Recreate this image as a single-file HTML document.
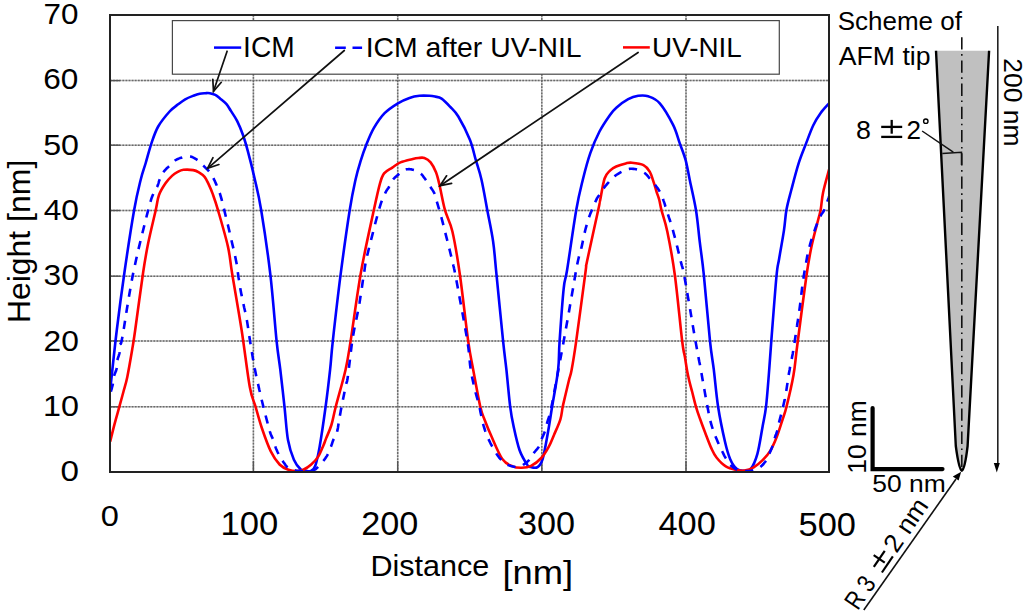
<!DOCTYPE html><html><head><meta charset="utf-8"><style>html,body{margin:0;padding:0;background:#fff;overflow:hidden}svg{display:block}</style></head><body>
<svg width="1024" height="614" viewBox="0 0 1024 614">
<rect width="1024" height="614" fill="#fff"/>
<defs><clipPath id="pc"><rect x="110" y="15" width="719" height="457"/></clipPath></defs>
<g stroke="#c2c2c2" stroke-width="1.5" fill="none">
<line x1="253.4" y1="15" x2="253.4" y2="472"/>
<line x1="397.7" y1="15" x2="397.7" y2="472"/>
<line x1="541.8" y1="15" x2="541.8" y2="472"/>
<line x1="686.0" y1="15" x2="686.0" y2="472"/>
<line x1="110" y1="406.8" x2="829" y2="406.8"/>
<line x1="110" y1="340.9" x2="829" y2="340.9"/>
<line x1="110" y1="276.2" x2="829" y2="276.2"/>
<line x1="110" y1="210.5" x2="829" y2="210.5"/>
<line x1="110" y1="145.2" x2="829" y2="145.2"/>
<line x1="110" y1="80.6" x2="829" y2="80.6"/>
</g>
<g stroke="#6a6a6a" stroke-width="1.5" stroke-dasharray="1.8 1.3" fill="none">
<line x1="253.4" y1="15" x2="253.4" y2="472"/>
<line x1="397.7" y1="15" x2="397.7" y2="472"/>
<line x1="541.8" y1="15" x2="541.8" y2="472"/>
<line x1="686.0" y1="15" x2="686.0" y2="472"/>
<line x1="110" y1="406.8" x2="829" y2="406.8"/>
<line x1="110" y1="340.9" x2="829" y2="340.9"/>
<line x1="110" y1="276.2" x2="829" y2="276.2"/>
<line x1="110" y1="210.5" x2="829" y2="210.5"/>
<line x1="110" y1="145.2" x2="829" y2="145.2"/>
<line x1="110" y1="80.6" x2="829" y2="80.6"/>
</g>
<g stroke="#555" stroke-width="1.4">
<line x1="253.4" y1="461" x2="253.4" y2="472"/>
<line x1="397.7" y1="461" x2="397.7" y2="472"/>
<line x1="541.8" y1="461" x2="541.8" y2="472"/>
<line x1="686.0" y1="461" x2="686.0" y2="472"/>
<line x1="110" y1="406.8" x2="120" y2="406.8"/>
<line x1="110" y1="340.9" x2="120" y2="340.9"/>
<line x1="110" y1="276.2" x2="120" y2="276.2"/>
<line x1="110" y1="210.5" x2="120" y2="210.5"/>
<line x1="110" y1="145.2" x2="120" y2="145.2"/>
<line x1="110" y1="80.6" x2="120" y2="80.6"/>
</g>
<rect x="172.4" y="20.6" width="606.9" height="53.6" fill="#fff" stroke="#484848" stroke-width="1.2"/>
<g clip-path="url(#pc)" fill="none" stroke-width="2.6" stroke-linejoin="round">
<path stroke="#0000ff" d="M110.30,389.00 C111.38,379.17 114.43,349.50 116.80,330.00 C119.17,310.50 121.62,291.97 124.50,272.00 C127.38,252.03 131.40,225.58 134.10,210.20 C136.80,194.82 138.77,187.57 140.70,179.70 C142.63,171.83 143.90,169.10 145.70,163.00 C147.50,156.90 149.42,149.18 151.50,143.10 C153.58,137.02 155.18,131.77 158.20,126.50 C161.22,121.23 166.33,115.15 169.60,111.50 C172.87,107.85 175.20,106.63 177.80,104.60 C180.40,102.57 182.60,100.78 185.20,99.30 C187.80,97.82 190.98,96.63 193.40,95.70 C195.82,94.77 197.73,94.12 199.70,93.70 C201.67,93.28 203.52,93.28 205.20,93.20 C206.88,93.12 208.12,92.92 209.80,93.20 C211.48,93.48 213.60,94.03 215.30,94.90 C217.00,95.77 218.17,96.90 220.00,98.40 C221.83,99.90 224.48,101.82 226.30,103.90 C228.12,105.98 229.08,108.03 230.90,110.90 C232.72,113.77 235.20,117.12 237.20,121.10 C239.20,125.08 241.12,129.75 242.90,134.80 C244.68,139.85 245.97,144.20 247.90,151.40 C249.83,158.60 252.28,168.20 254.50,178.00 C256.72,187.80 258.57,194.17 261.20,210.20 C263.83,226.23 267.73,252.38 270.30,274.20 C272.87,296.02 274.93,325.18 276.60,341.10 C278.27,357.02 278.98,358.75 280.30,369.70 C281.62,380.65 283.22,395.07 284.50,406.80 C285.78,418.53 286.43,431.28 288.00,440.10 C289.57,448.92 291.77,454.80 293.90,459.70 C296.03,464.60 298.78,467.63 300.80,469.50 C302.82,471.37 304.30,470.67 306.00,470.90 C307.70,471.13 309.45,471.77 311.00,470.90 C312.55,470.03 313.87,469.70 315.30,465.70 C316.73,461.70 317.88,456.72 319.60,446.90 C321.32,437.08 323.85,419.67 325.60,406.80 C327.35,393.93 328.90,380.65 330.10,369.70 C331.30,358.75 331.05,356.93 332.80,341.10 C334.55,325.27 337.78,296.52 340.60,274.70 C343.42,252.88 347.22,226.03 349.70,210.20 C352.18,194.37 353.70,187.83 355.50,179.70 C357.30,171.57 358.70,167.22 360.50,161.40 C362.30,155.58 364.08,150.33 366.30,144.80 C368.52,139.27 370.75,133.47 373.80,128.20 C376.85,122.93 380.58,117.35 384.60,113.20 C388.62,109.05 393.75,105.85 397.90,103.30 C402.05,100.75 405.90,99.15 409.50,97.90 C413.10,96.65 416.17,96.15 419.50,95.80 C422.83,95.45 426.92,95.67 429.50,95.80 C432.08,95.93 432.98,96.13 435.00,96.60 C437.02,97.07 439.10,96.93 441.60,98.60 C444.10,100.27 447.22,103.62 450.00,106.60 C452.78,109.58 454.98,110.97 458.30,116.50 C461.62,122.03 467.00,132.60 469.90,139.80 C472.80,147.00 473.77,153.05 475.70,159.70 C477.63,166.35 479.57,171.28 481.50,179.70 C483.43,188.12 485.37,199.92 487.30,210.20 C489.23,220.48 491.57,230.65 493.10,241.40 C494.63,252.15 494.83,258.08 496.50,274.70 C498.17,291.32 501.45,325.27 503.10,341.10 C504.75,356.93 505.22,358.75 506.40,369.70 C507.58,380.65 509.00,397.35 510.20,406.80 C511.40,416.25 512.03,419.15 513.60,426.40 C515.17,433.65 517.32,443.88 519.60,450.30 C521.88,456.72 525.45,462.10 527.30,464.90 C529.15,467.70 528.98,466.73 530.70,467.10 C532.42,467.47 535.60,468.47 537.60,467.10 C539.60,465.73 541.00,464.55 542.70,458.90 C544.40,453.25 546.23,441.88 547.80,433.20 C549.37,424.52 550.38,417.33 552.10,406.80 C553.82,396.27 556.85,380.95 558.10,370.00 C559.35,359.05 558.67,354.72 559.60,341.10 C560.53,327.48 562.45,300.15 563.70,288.30 C564.95,276.45 565.02,283.02 567.10,270.00 C569.18,256.98 573.58,225.25 576.20,210.20 C578.82,195.15 580.45,189.22 582.80,179.70 C585.15,170.18 587.52,161.13 590.30,153.10 C593.08,145.07 596.22,137.87 599.50,131.50 C602.78,125.13 607.15,118.92 610.00,114.90 C612.85,110.88 613.57,110.03 616.60,107.40 C619.63,104.77 624.60,101.03 628.20,99.10 C631.80,97.17 634.87,96.27 638.20,95.80 C641.53,95.33 644.60,95.05 648.20,96.30 C651.80,97.55 655.65,98.53 659.80,103.30 C663.95,108.07 669.78,118.27 673.10,124.90 C676.42,131.53 677.63,137.30 679.70,143.10 C681.77,148.90 683.83,153.60 685.50,159.70 C687.17,165.80 687.95,171.28 689.70,179.70 C691.45,188.12 694.33,199.92 696.00,210.20 C697.67,220.48 698.40,230.65 699.70,241.40 C701.00,252.15 702.08,258.08 703.80,274.70 C705.52,291.32 708.33,325.27 710.00,341.10 C711.67,356.93 712.45,358.75 713.80,369.70 C715.15,380.65 716.23,394.78 718.10,406.80 C719.97,418.82 723.00,433.12 725.00,441.80 C727.00,450.48 728.12,454.35 730.10,458.90 C732.08,463.45 734.62,467.10 736.90,469.10 C739.18,471.10 741.52,470.90 743.80,470.90 C746.08,470.90 748.33,471.95 750.60,469.10 C752.87,466.25 755.40,460.92 757.40,453.80 C759.40,446.68 761.17,434.23 762.60,426.40 C764.03,418.57 764.97,415.37 766.00,406.80 C767.03,398.23 767.92,385.95 768.80,375.00 C769.68,364.05 770.02,357.60 771.30,341.10 C772.58,324.60 775.20,289.68 776.50,276.00 C777.80,262.32 777.85,266.65 779.10,259.00 C780.35,251.35 782.77,238.33 784.00,230.10 C785.23,221.87 785.28,216.28 786.50,209.60 C787.72,202.92 789.27,197.75 791.30,190.00 C793.33,182.25 796.25,170.83 798.70,163.10 C801.15,155.37 803.57,149.92 806.00,143.60 C808.43,137.28 810.85,130.30 813.30,125.20 C815.75,120.10 818.05,116.67 820.70,113.00 C823.35,109.33 827.78,104.83 829.20,103.20"/>
<path stroke="#ff0000" d="M110.10,441.80 C110.85,438.80 113.03,429.73 114.60,423.80 C116.17,417.87 118.02,411.58 119.50,406.20 C120.98,400.82 122.20,396.38 123.50,391.50 C124.80,386.62 125.85,383.90 127.30,376.90 C128.75,369.90 130.88,357.32 132.20,349.50 C133.52,341.68 133.37,342.92 135.20,330.00 C137.03,317.08 141.03,286.48 143.20,272.00 C145.37,257.52 146.12,253.40 148.20,243.10 C150.28,232.80 153.90,218.22 155.70,210.20 C157.50,202.18 157.37,199.48 159.00,195.00 C160.63,190.52 163.33,186.48 165.50,183.30 C167.67,180.12 169.97,177.80 172.00,175.90 C174.03,174.00 175.80,172.92 177.70,171.90 C179.60,170.88 180.82,170.10 183.40,169.80 C185.98,169.50 190.62,169.68 193.20,170.10 C195.78,170.52 197.00,171.18 198.90,172.30 C200.80,173.42 202.98,174.83 204.60,176.80 C206.22,178.77 207.25,181.25 208.60,184.10 C209.95,186.95 211.13,189.55 212.70,193.90 C214.27,198.25 215.47,201.45 218.00,210.20 C220.53,218.95 225.55,235.88 227.90,246.40 C230.25,256.92 229.82,259.37 232.10,273.30 C234.38,287.23 238.65,311.05 241.60,330.00 C244.55,348.95 247.48,374.25 249.80,387.00 C252.12,399.75 253.47,399.58 255.50,406.50 C257.53,413.42 259.45,421.02 262.00,428.50 C264.55,435.98 267.87,445.40 270.80,451.40 C273.73,457.40 276.67,461.43 279.60,464.50 C282.53,467.57 285.47,468.70 288.40,469.80 C291.33,470.90 294.72,471.10 297.20,471.10 C299.68,471.10 300.97,470.90 303.30,469.80 C305.63,468.70 308.72,466.70 311.20,464.50 C313.68,462.30 316.15,459.82 318.20,456.60 C320.25,453.38 322.18,448.23 323.50,445.20 C324.82,442.17 324.78,441.77 326.10,438.40 C327.42,435.03 329.78,430.32 331.40,425.00 C333.02,419.68 333.45,415.67 335.80,406.50 C338.15,397.33 343.03,380.90 345.50,370.00 C347.97,359.10 348.02,357.43 350.60,341.10 C353.18,324.77 357.13,293.82 361.00,272.00 C364.87,250.18 370.63,224.98 373.80,210.20 C376.97,195.42 378.28,189.43 380.00,183.30 C381.72,177.17 382.05,176.02 384.10,173.40 C386.15,170.78 389.57,169.43 392.30,167.60 C395.03,165.77 397.08,163.83 400.50,162.40 C403.92,160.97 409.83,159.73 412.80,159.00 C415.77,158.27 416.37,158.17 418.30,158.00 C420.23,157.83 422.35,157.27 424.40,158.00 C426.45,158.73 428.67,160.02 430.60,162.40 C432.53,164.78 434.52,168.53 436.00,172.30 C437.48,176.07 438.00,178.68 439.50,185.00 C441.00,191.32 442.85,202.45 445.00,210.20 C447.15,217.95 449.92,220.75 452.40,231.50 C454.88,242.25 457.27,256.43 459.90,274.70 C462.53,292.97 465.98,325.27 468.20,341.10 C470.42,356.93 471.18,358.75 473.20,369.70 C475.22,380.65 478.38,398.42 480.30,406.80 C482.22,415.18 482.88,415.17 484.70,420.00 C486.52,424.83 488.27,429.30 491.20,435.80 C494.13,442.30 498.75,453.90 502.30,459.00 C505.85,464.10 509.25,464.93 512.50,466.40 C515.75,467.87 518.70,467.88 521.80,467.80 C524.90,467.72 527.85,467.53 531.10,465.90 C534.35,464.27 538.37,461.17 541.30,458.00 C544.23,454.83 546.57,450.78 548.70,446.90 C550.83,443.02 552.15,439.30 554.10,434.70 C556.05,430.10 558.97,423.95 560.40,419.30 C561.83,414.65 561.85,410.88 562.70,406.80 C563.55,402.72 564.45,399.27 565.50,394.80 C566.55,390.33 567.98,384.13 569.00,380.00 C570.02,375.87 570.40,376.48 571.60,370.00 C572.80,363.52 573.88,357.43 576.20,341.10 C578.52,324.77 583.70,285.28 585.50,272.00 C587.30,258.72 584.82,272.03 587.00,261.40 C589.18,250.77 596.40,218.43 598.60,208.20 C600.80,197.97 599.20,204.95 600.20,200.00 C601.20,195.05 602.97,183.40 604.60,178.50 C606.23,173.60 608.07,172.60 610.00,170.60 C611.93,168.60 613.57,167.70 616.20,166.50 C618.83,165.30 623.18,164.03 625.80,163.40 C628.42,162.77 628.95,162.42 631.90,162.70 C634.85,162.98 640.53,163.62 643.50,165.10 C646.47,166.58 647.98,168.68 649.70,171.60 C651.42,174.52 652.67,179.27 653.80,182.60 C654.93,185.93 655.58,188.70 656.50,191.60 C657.42,194.50 658.47,196.90 659.30,200.00 C660.13,203.10 660.17,204.95 661.50,210.20 C662.83,215.45 665.08,220.75 667.30,231.50 C669.52,242.25 672.33,256.53 674.80,274.70 C677.27,292.87 680.40,326.68 682.10,340.50 C683.80,354.32 684.15,352.47 685.00,357.60 C685.85,362.73 686.48,367.40 687.20,371.30 C687.92,375.20 688.47,377.55 689.30,381.00 C690.13,384.45 691.08,387.70 692.20,392.00 C693.32,396.30 694.70,402.33 696.00,406.80 C697.30,411.27 698.48,414.52 700.00,418.80 C701.52,423.08 703.20,427.57 705.10,432.50 C707.00,437.43 709.50,444.23 711.40,448.40 C713.30,452.57 714.10,454.50 716.50,457.50 C718.90,460.50 722.38,464.30 725.80,466.40 C729.22,468.50 733.90,469.40 737.00,470.10 C740.10,470.80 741.62,471.07 744.40,470.60 C747.18,470.13 750.62,469.08 753.70,467.30 C756.78,465.52 760.12,462.68 762.90,459.90 C765.68,457.12 768.08,454.47 770.40,450.60 C772.72,446.73 774.80,441.80 776.80,436.70 C778.80,431.60 780.78,424.98 782.40,420.00 C784.02,415.02 784.65,414.30 786.50,406.80 C788.35,399.30 791.70,385.30 793.50,375.00 C795.30,364.70 795.15,361.50 797.30,345.00 C799.45,328.50 804.02,292.50 806.40,276.00 C808.78,259.50 809.65,255.33 811.60,246.00 C813.55,236.67 816.58,226.07 818.10,220.00 C819.62,213.93 819.87,214.18 820.70,209.60 C821.53,205.02 821.68,199.23 823.10,192.50 C824.52,185.77 828.18,173.08 829.20,169.20"/>
<polyline stroke="#0000ff" stroke-dasharray="8.30 7.94" stroke-dashoffset="-1.34" points="110.5,393.0 110.8,392.0 111.1,390.7 111.6,389.1 112.0,387.4 112.5,385.7 112.8,384.2 113.0,382.8 113.2,381.5 113.4,380.1 113.5,378.8 113.7,377.5 114.0,376.2 114.4,374.9 114.9,373.5 115.4,372.2 116.0,370.9 116.4,369.5 116.8,368.2 117.0,366.9 117.1,365.5 117.1,364.2 117.2,362.9 117.2,361.5 117.4,360.2 117.7,358.9 118.1,357.5 118.6,356.2 119.0,354.9 119.4,353.5 119.7,352.2 119.9,350.9 120.0,349.6 120.0,348.2 120.0,346.9 120.1,345.6 120.3,344.3 120.5,343.6 120.6,343.7 120.8,343.8 121.1,343.1 121.6,340.9 122.5,336.3 123.8,328.9 125.3,319.1 127.1,307.8 129.1,295.7 131.2,283.7 133.3,272.5 135.7,261.5 138.3,249.9 141.1,238.4 143.8,227.5 146.2,217.9 148.2,210.2 149.6,204.7 150.7,201.0 151.4,198.6 152.0,197.0 152.6,195.6 153.3,193.9 154.0,192.2 154.8,190.8 155.5,189.6 156.1,188.6 156.7,187.6 157.3,186.5 157.8,185.3 158.2,184.1 158.6,182.8 158.9,181.6 159.3,180.4 159.8,179.2 160.3,178.0 160.9,176.8 161.4,175.5 162.1,174.3 162.7,173.1 163.5,172.0 164.4,170.9 165.3,169.9 166.3,168.8 167.4,167.8 168.4,166.9 169.4,165.9 170.3,164.9 171.2,164.0 172.0,163.0 172.9,162.1 173.9,161.3 174.9,160.5 176.1,159.8 177.3,159.2 178.6,158.6 180.0,158.1 181.3,157.7 182.6,157.3 183.9,157.0 185.1,156.6 186.4,156.4 187.6,156.2 188.9,156.2 190.2,156.4 191.5,156.8 192.9,157.4 194.3,158.1 195.6,158.9 196.9,159.7 198.1,160.5 199.2,161.3 200.1,162.1 201.0,163.0 201.8,163.9 202.7,164.9 203.6,165.8 204.6,166.8 205.6,167.8 206.6,168.8 207.7,169.9 208.6,170.9 209.5,172.0 210.3,173.0 211.0,174.1 211.7,175.1 212.3,176.2 212.9,177.3 213.5,178.4 214.1,179.6 214.7,180.7 215.2,181.9 215.7,183.2 216.3,184.4 216.8,185.7 217.3,186.9 217.8,188.1 218.3,189.2 218.9,190.5 219.4,192.1 220.0,193.9 220.6,195.8 221.1,197.6 221.7,199.7 222.3,202.2 223.2,205.7 224.3,210.2 225.8,216.5 227.8,224.5 229.9,233.4 231.9,242.2 233.8,250.2 235.2,256.5 236.1,260.9 236.7,264.0 237.0,266.2 237.2,268.0 237.5,269.9 237.8,272.2 238.2,275.0 238.6,277.8 239.1,280.7 239.5,283.5 239.9,286.3 240.4,289.1 240.9,291.8 241.4,294.4 242.0,297.0 242.5,299.5 243.1,302.1 243.6,304.7 244.1,307.3 244.7,309.8 245.3,312.3 245.8,314.8 246.4,317.5 246.9,320.4 247.4,323.4 247.9,326.6 248.4,329.8 248.9,333.2 249.4,336.8 250.0,340.7 250.7,345.0 251.5,349.7 252.3,354.7 253.1,359.6 254.0,364.2 254.7,368.3 255.4,371.8 256.0,374.8 256.6,377.6 257.2,380.3 257.8,383.0 258.5,386.0 259.2,389.2 260.0,392.5 260.7,395.8 261.5,399.2 262.4,402.8 263.3,406.5 264.3,410.6 265.5,415.1 266.7,419.8 267.9,424.3 269.0,428.3 269.9,431.6 270.7,434.0 271.3,435.6 271.9,436.8 272.4,437.8 272.9,438.8 273.4,439.9 273.8,441.2 274.2,442.4 274.5,443.7 274.8,444.9 275.2,446.1 275.6,447.4 276.1,448.7 276.7,450.1 277.3,451.5 277.9,452.8 278.5,454.1 279.1,455.3 279.7,456.4 280.2,457.3 280.8,458.2 281.3,459.1 282.0,460.0 282.7,461.0 283.5,462.2 284.4,463.4 285.3,464.8 286.3,466.0 287.3,467.2 288.4,468.1 289.5,468.8 290.6,469.3 291.8,469.7 293.1,470.0 294.3,470.3 295.6,470.5 296.9,470.7 298.3,470.8 299.7,470.9 301.1,471.0 302.6,471.0 304.0,471.0 305.5,471.0 307.0,471.0 308.6,471.0 310.1,470.9 311.5,470.7 312.7,470.5 313.7,470.2 314.5,469.8 315.3,469.4 315.9,468.9 316.6,468.3 317.4,467.6 318.2,466.8 319.1,466.0 320.0,465.0 320.9,464.0 321.7,463.0 322.6,461.9 323.5,460.8 324.3,459.7 325.2,458.5 326.0,457.3 326.8,456.1 327.5,454.9 328.1,453.7 328.6,452.6 329.1,451.4 329.6,450.3 330.0,449.1 330.5,447.8 331.0,446.5 331.5,445.1 332.0,443.7 332.5,442.2 333.0,440.8 333.5,439.5 334.1,438.3 334.7,437.3 335.3,436.3 335.9,435.2 336.5,433.8 337.0,432.1 337.5,429.9 338.0,427.4 338.4,424.6 338.9,421.8 339.3,418.9 339.8,416.2 340.3,413.6 340.7,411.1 341.2,408.5 341.7,406.0 342.2,403.4 342.7,400.8 343.3,398.0 343.9,395.0 344.5,392.1 345.1,389.2 345.6,386.5 346.1,384.3 346.5,382.9 346.7,382.2 346.9,381.8 347.1,381.1 347.4,379.6 347.8,376.8 348.4,372.3 349.1,366.4 349.9,359.8 350.7,352.9 351.5,346.5 352.2,341.1 352.9,336.7 353.6,332.9 354.2,329.5 354.9,326.4 355.5,323.4 356.1,320.4 356.7,317.5 357.2,314.9 357.7,312.4 358.2,310.0 358.6,307.5 359.1,305.0 359.6,302.4 360.0,299.7 360.4,297.0 360.9,294.4 361.3,291.6 361.7,288.9 362.1,286.1 362.5,283.3 362.9,280.4 363.3,277.6 363.8,274.8 364.2,272.0 364.6,269.6 364.8,267.7 365.1,265.8 365.5,263.4 366.1,260.3 367.1,255.9 368.6,249.7 370.6,241.8 372.8,233.1 375.0,224.4 377.1,216.5 378.8,210.2 380.2,205.7 381.3,202.2 382.3,199.6 383.2,197.5 384.1,195.6 384.9,193.8 385.7,192.1 386.4,190.8 387.1,189.8 387.7,188.9 388.4,188.0 389.0,187.0 389.6,185.8 390.2,184.6 390.8,183.3 391.4,182.1 392.1,180.9 392.8,179.8 393.6,178.8 394.6,177.8 395.5,177.0 396.5,176.1 397.6,175.2 398.6,174.4 399.6,173.5 400.7,172.6 401.7,171.7 402.8,170.8 403.9,170.1 405.1,169.6 406.3,169.3 407.6,169.2 409.0,169.1 410.3,169.2 411.6,169.4 412.9,169.7 414.2,170.0 415.4,170.5 416.7,171.0 417.9,171.6 419.0,172.3 420.1,173.0 421.1,173.8 422.0,174.8 422.8,175.8 423.6,176.9 424.4,178.0 425.2,179.1 426.0,180.2 426.8,181.4 427.6,182.6 428.4,183.9 429.2,185.1 430.0,186.3 430.8,187.5 431.6,188.7 432.4,189.9 433.2,191.1 433.9,192.3 434.5,193.5 434.9,194.5 435.2,195.4 435.4,196.2 435.7,197.2 436.0,198.5 436.4,200.1 437.0,202.2 437.8,204.8 438.6,207.6 439.5,210.6 440.3,213.5 441.1,216.3 441.8,219.0 442.5,221.7 443.2,224.4 443.9,227.0 444.5,229.7 445.2,232.4 445.9,235.1 446.6,237.8 447.3,240.5 448.0,243.2 448.7,245.9 449.3,248.5 449.9,251.0 450.5,253.5 451.1,255.8 451.7,258.2 452.2,260.7 452.8,263.2 453.3,265.3 453.7,266.8 454.0,268.3 454.5,270.5 455.2,274.0 456.2,279.3 457.7,287.3 459.6,297.7 461.8,309.4 464.0,321.3 465.9,332.2 467.4,341.1 468.4,347.9 469.0,353.4 469.5,358.0 469.8,362.0 470.2,365.8 470.7,369.7 471.4,373.6 472.1,377.2 472.8,380.6 473.5,383.8 474.3,386.9 475.0,390.0 475.7,393.0 476.5,395.9 477.3,398.7 478.0,401.4 478.7,404.1 479.4,406.8 480.0,409.5 480.5,412.2 481.1,414.9 481.6,417.5 482.1,420.2 482.8,422.8 483.5,425.4 484.3,428.0 485.1,430.6 486.0,433.1 487.0,435.6 488.0,438.1 489.2,440.6 490.5,443.3 491.9,445.9 493.3,448.3 494.6,450.6 495.8,452.5 496.7,454.1 497.5,455.3 498.2,456.3 498.9,457.2 499.6,458.1 500.5,459.0 501.5,460.0 502.5,461.0 503.6,462.0 504.7,462.9 505.8,463.8 507.0,464.5 508.2,465.1 509.5,465.6 510.8,466.0 512.1,466.3 513.3,466.6 514.4,466.8 515.3,467.0 516.1,467.1 516.9,467.2 517.6,467.2 518.3,467.1 519.0,467.0 519.8,466.8 520.5,466.4 521.3,466.0 522.1,465.6 522.9,465.1 523.7,464.5 524.6,463.9 525.5,463.2 526.5,462.5 527.4,461.7 528.3,460.8 529.2,459.9 530.0,458.9 530.8,457.7 531.6,456.5 532.3,455.3 533.1,454.1 533.9,452.9 534.8,451.8 535.7,450.7 536.6,449.7 537.5,448.6 538.3,447.5 539.0,446.4 539.6,445.2 540.1,444.0 540.5,442.8 540.8,441.5 541.2,440.3 541.7,439.0 542.2,437.7 542.8,436.4 543.4,435.1 544.0,433.7 544.5,432.4 545.0,431.1 545.4,429.9 545.6,428.9 545.9,427.9 546.1,426.8 546.5,425.4 546.9,423.7 547.4,421.8 548.0,419.9 548.7,417.8 549.5,415.3 550.3,412.1 551.2,408.0 552.3,402.7 553.5,396.3 554.8,389.3 556.1,382.0 557.4,375.1 558.5,369.0 559.5,363.9 560.3,359.4 561.1,355.2 561.9,351.0 562.7,346.4 563.7,341.1 564.8,335.0 566.0,328.2 567.3,321.1 568.6,313.8 569.8,306.7 571.0,300.0 572.1,293.5 573.3,286.8 574.4,280.3 575.4,274.2 576.4,268.6 577.3,263.9 578.1,260.2 578.8,257.3 579.4,255.0 580.0,253.1 580.6,251.0 581.2,248.7 581.8,246.1 582.4,243.4 582.9,240.7 583.5,238.0 584.1,235.3 584.7,232.6 585.3,230.0 586.0,227.4 586.7,224.9 587.4,222.3 588.2,219.7 589.1,217.0 590.2,214.1 591.5,210.9 592.8,207.6 594.2,204.5 595.4,201.8 596.4,199.6 597.1,198.1 597.7,197.2 598.1,196.6 598.4,196.2 598.9,195.7 599.4,194.9 600.1,193.9 600.8,192.7 601.5,191.5 602.3,190.3 603.1,189.1 603.9,188.0 604.7,186.9 605.5,185.9 606.4,184.9 607.2,183.9 608.1,182.9 609.0,181.9 609.9,180.9 610.8,179.9 611.8,178.9 612.8,177.9 613.8,177.0 614.8,176.1 615.9,175.3 617.0,174.5 618.1,173.8 619.3,173.1 620.5,172.4 621.7,171.8 622.9,171.2 624.1,170.6 625.4,170.0 626.6,169.5 627.9,169.2 629.2,168.9 630.5,168.8 631.9,168.8 633.3,168.9 634.7,169.0 636.1,169.3 637.4,169.6 638.7,170.0 639.9,170.4 641.2,171.0 642.4,171.6 643.5,172.3 644.6,173.0 645.6,173.8 646.5,174.7 647.4,175.7 648.3,176.7 649.1,177.8 650.0,178.8 650.9,179.8 651.8,180.8 652.6,181.8 653.5,182.9 654.4,183.9 655.2,185.0 656.0,186.1 656.9,187.2 657.7,188.3 658.5,189.5 659.2,190.6 659.9,191.8 660.5,192.9 661.0,193.9 661.4,194.8 661.9,195.9 662.4,197.3 663.0,199.0 663.7,201.1 664.6,203.6 665.4,206.4 666.3,209.2 667.2,212.1 668.1,214.8 668.9,217.4 669.8,220.0 670.6,222.5 671.4,225.1 672.1,227.6 672.9,230.2 673.6,232.8 674.3,235.3 675.0,237.9 675.6,240.4 676.2,243.0 676.9,245.6 677.6,248.2 678.2,250.9 678.9,253.6 679.5,256.3 680.2,259.0 680.8,261.7 681.4,263.8 681.8,265.3 682.3,266.8 682.8,268.9 683.6,272.4 684.6,277.8 686.1,286.0 687.9,296.7 690.0,308.7 692.0,320.8 693.9,332.0 695.5,341.1 696.7,347.8 697.7,353.1 698.5,357.4 699.2,361.2 700.0,365.0 700.8,369.5 701.7,374.6 702.6,379.8 703.6,385.2 704.5,390.4 705.4,395.4 706.2,400.0 707.0,404.2 707.7,408.0 708.4,411.6 709.0,415.1 709.7,418.3 710.5,421.4 711.3,424.3 712.1,427.0 712.9,429.5 713.8,431.9 714.6,434.2 715.6,436.7 716.7,439.3 717.8,441.9 719.0,444.6 720.2,447.1 721.3,449.5 722.3,451.5 723.1,453.2 723.8,454.6 724.4,455.8 725.0,456.8 725.6,457.9 726.3,459.0 727.0,460.2 727.7,461.3 728.5,462.5 729.2,463.6 730.0,464.6 730.9,465.5 731.8,466.3 732.8,467.1 733.7,467.8 734.8,468.4 735.9,469.0 737.0,469.5 738.2,469.9 739.6,470.3 740.9,470.5 742.3,470.7 743.7,470.9 745.0,471.0 746.3,471.1 747.5,471.1 748.7,471.0 749.9,470.9 751.1,470.7 752.3,470.5 753.5,470.2 754.7,469.9 755.8,469.5 757.0,469.0 758.1,468.5 759.2,467.8 760.3,467.0 761.4,466.1 762.5,465.0 763.5,464.0 764.4,462.8 765.3,461.7 766.1,460.5 766.7,459.3 767.3,458.1 767.9,456.8 768.4,455.5 769.0,454.3 769.6,453.1 770.1,451.9 770.7,450.7 771.2,449.4 771.7,448.2 772.2,446.9 772.6,445.6 773.0,444.2 773.4,442.8 773.7,441.4 774.1,440.0 774.5,438.6 775.0,437.2 775.4,435.9 776.0,434.6 776.5,433.3 776.9,432.0 777.3,430.7 777.6,429.7 777.7,429.0 777.8,428.2 777.9,427.3 778.2,425.9 778.7,423.7 779.5,420.6 780.5,416.9 781.6,412.6 782.7,408.1 783.8,403.5 784.8,399.1 785.6,394.7 786.4,390.1 787.1,385.4 787.8,380.9 788.4,376.7 789.0,373.0 789.6,369.9 790.0,367.4 790.5,365.1 790.9,363.1 791.4,361.0 791.8,358.7 792.2,356.3 792.7,353.9 793.1,351.5 793.5,349.0 793.9,346.5 794.3,344.0 794.7,341.4 795.1,338.7 795.5,336.0 795.9,333.3 796.3,330.6 796.7,327.9 797.1,325.4 797.4,323.2 797.8,321.0 798.2,318.5 798.7,315.5 799.2,311.7 799.8,306.8 800.6,300.9 801.3,294.6 802.1,288.0 803.0,281.7 803.8,276.0 804.6,270.9 805.4,266.0 806.3,261.4 807.1,256.9 808.1,252.7 809.0,248.6 810.0,244.7 811.1,240.9 812.2,237.2 813.4,233.8 814.5,230.7 815.5,227.8 816.5,225.2 817.4,222.9 818.3,220.8 819.1,219.0 819.9,217.3 820.7,215.7 821.4,214.4 822.0,213.5 822.6,212.7 823.1,212.0 823.7,211.0 824.4,209.6 825.2,207.6 826.1,205.1 827.0,202.5 827.9,199.9 828.7,197.7 829.2,196.1"/>
</g>
<rect x="110" y="15" width="719" height="457" fill="none" stroke="#222" stroke-width="2"/>
<line x1="214" y1="47.6" x2="241.2" y2="47.6" stroke="#0000ff" stroke-width="2.5"/>
<line x1="335.1" y1="47.8" x2="362.1" y2="47.8" stroke="#0000ff" stroke-width="2.5" stroke-dasharray="10.7 6.7"/>
<line x1="623" y1="47.4" x2="649.8" y2="47.4" stroke="#ff0000" stroke-width="2.5"/>
<g stroke="#111" stroke-width="1.7" stroke-linecap="round" stroke-linejoin="miter">
<line x1="227.1" y1="51.2" x2="213.5" y2="91.3"/><polyline points="212.8,79.4 213.5,91.3 221.3,82.3" fill="none"/>
<line x1="344.3" y1="50.5" x2="207.6" y2="168.3"/><polyline points="213.0,157.7 207.6,168.3 218.9,164.5" fill="none"/>
<line x1="638.1" y1="52.5" x2="440.0" y2="185.7"/><polyline points="446.6,175.8 440.0,185.7 451.6,183.3" fill="none"/>
</g>
<g font-family="'Liberation Sans', sans-serif" fill="#000">
<text transform="translate(45.00 2.90)" x="-1.50" y="21.25" font-size="30.36" textLength="34.93" lengthAdjust="spacingAndGlyphs">70</text>
<text transform="translate(44.70 68.40)" x="-1.50" y="21.00" font-size="30.08" textLength="35.09" lengthAdjust="spacingAndGlyphs">60</text>
<text transform="translate(44.40 133.80)" x="-1.25" y="21.00" font-size="30.08" textLength="35.83" lengthAdjust="spacingAndGlyphs">50</text>
<text transform="translate(44.50 199.00)" x="-0.75" y="21.25" font-size="30.29" textLength="35.16" lengthAdjust="spacingAndGlyphs">40</text>
<text transform="translate(44.80 264.00)" x="-1.25" y="21.25" font-size="30.36" textLength="35.24" lengthAdjust="spacingAndGlyphs">30</text>
<text transform="translate(45.10 330.00)" x="-1.50" y="20.75" font-size="29.65" textLength="35.30" lengthAdjust="spacingAndGlyphs">20</text>
<text transform="translate(45.50 395.00)" x="-2.50" y="20.75" font-size="29.65" textLength="35.91" lengthAdjust="spacingAndGlyphs">10</text>
<text transform="translate(61.70 459.80)" x="-1.25" y="21.25" font-size="30.36" textLength="18.46" lengthAdjust="spacingAndGlyphs">0</text>
<text transform="translate(102.10 504.70)" x="-1.25" y="21.25" font-size="30.36" textLength="18.11" lengthAdjust="spacingAndGlyphs">0</text>
<text transform="translate(222.90 511.70)" x="-2.50" y="23.75" font-size="33.93" textLength="57.79" lengthAdjust="spacingAndGlyphs">100</text>
<text transform="translate(362.90 511.80)" x="-1.75" y="23.25" font-size="33.43" textLength="57.09" lengthAdjust="spacingAndGlyphs">200</text>
<text transform="translate(519.20 512.20)" x="-1.25" y="23.25" font-size="33.22" textLength="57.13" lengthAdjust="spacingAndGlyphs">300</text>
<text transform="translate(659.20 511.80)" x="-0.75" y="23.25" font-size="33.43" textLength="57.43" lengthAdjust="spacingAndGlyphs">400</text>
<text transform="translate(800.00 512.30)" x="-1.50" y="23.50" font-size="33.65" textLength="57.48" lengthAdjust="spacingAndGlyphs">500</text>
<text transform="translate(372.90 554.50)" x="-2.50" y="21.00" font-size="30.36" textLength="118.90" lengthAdjust="spacingAndGlyphs">Distance</text>
<text transform="translate(505.00 559.50)" x="-2.50" y="24.75" font-size="33.98" textLength="70.66" lengthAdjust="spacingAndGlyphs">[nm]</text>
<text transform="translate(245.60 37.00)" x="-2.50" y="20.00" font-size="28.87" textLength="51.58" lengthAdjust="spacingAndGlyphs">ICM</text>
<text transform="translate(368.20 37.00)" x="-2.50" y="19.50" font-size="28.44" textLength="215.87" lengthAdjust="spacingAndGlyphs">ICM after UV-NIL</text>
<text transform="translate(654.30 37.40)" x="-2.25" y="19.25" font-size="27.94" textLength="89.79" lengthAdjust="spacingAndGlyphs">UV-NIL</text>
<text transform="translate(839.00 12.00)" x="-1.25" y="18.00" font-size="25.65" textLength="124.10" lengthAdjust="spacingAndGlyphs">Scheme of</text>
<text transform="translate(838.80 47.00)" x="-0.00" y="18.25" font-size="26.51" textLength="91.70" lengthAdjust="spacingAndGlyphs">AFM tip</text>
<text transform="translate(857.30 121.20)" x="-1.25" y="17.50" font-size="24.86" textLength="14.89" lengthAdjust="spacingAndGlyphs">8</text>
<text transform="translate(907.80 120.80)" x="-1.25" y="17.75" font-size="25.50" textLength="14.49" lengthAdjust="spacingAndGlyphs">2</text>
<text transform="translate(873.20 474.60)" x="-1.00" y="17.00" font-size="24.15" textLength="73.51" lengthAdjust="spacingAndGlyphs">50 nm</text>
<text transform="translate(7.80 320.60) rotate(-90.00)" x="-2.50" y="22.25" font-size="32.23" textLength="163.36" lengthAdjust="spacingAndGlyphs">Height [nm]</text>
<text transform="translate(847.60 471.80) rotate(-90.00)" x="-2.00" y="18.50" font-size="26.51" textLength="73.50" lengthAdjust="spacingAndGlyphs">10 nm</text>
<text transform="translate(1021.30 59.50) rotate(90.00)" x="-1.25" y="17.50" font-size="25.08" textLength="88.17" lengthAdjust="spacingAndGlyphs">200 nm</text>
<text transform="translate(844.06 599.95) rotate(-55.80)" x="-1.75" y="17.75" font-size="25.79" textLength="33.62" lengthAdjust="spacingAndGlyphs">R 3</text>
<text transform="translate(882.57 542.94) rotate(-55.80)" x="-1.25" y="17.75" font-size="25.50" textLength="58.55" lengthAdjust="spacingAndGlyphs">2 nm</text>
</g>
<g stroke="#000" stroke-width="2.3" fill="none">
<line x1="881.2" y1="126.9" x2="902.2" y2="126.9"/><line x1="891.7" y1="119.9" x2="891.7" y2="133.7"/><line x1="881.2" y1="136.9" x2="902.2" y2="136.9"/>
</g>
<circle cx="925.8" cy="121.2" r="2.2" fill="none" stroke="#000" stroke-width="1.4"/>
<g stroke="#000" stroke-width="2.2" fill="none">
<line x1="873.84" y1="566.99" x2="884.74" y2="550.94"/>
<line x1="884.75" y1="562.68" x2="873.67" y2="555.14"/>
<line x1="881.94" y1="572.50" x2="892.85" y2="556.45"/>
</g>
<path d="M935.9,50.8 L989.1,50.8 L967.6,446 C966.2,458 964.3,469.5 961.8,470.6 C959.3,469.5 957.4,458 955.8,446 Z" fill="#c0c0c0" stroke="none"/>
<path d="M936,50.8 L955.8,446 C957.4,458 959.3,469.5 961.8,470.6 C964.3,469.5 966.2,458 967.6,446 L989.1,50.8" fill="none" stroke="#000" stroke-width="2.4"/>
<line x1="961.8" y1="37.2" x2="961.8" y2="468" stroke="#111" stroke-width="1.6" stroke-dasharray="12.3 4.6 1.6 4.7"/>
<g stroke="#111" stroke-width="1.5" fill="none"><polyline points="922.1,131 953.3,152.1"/><polyline points="942.3,153.6 961.5,152.3 961.5,165"/></g>
<line x1="997.8" y1="25.9" x2="997.8" y2="464" stroke="#222" stroke-width="1.6"/>
<path d="M993.8,463 L999.8,463 L996.8,472.5 Z" fill="#000"/>
<polyline points="872.6,408 872.6,469.1 942.5,469.1" fill="none" stroke="#000" stroke-width="4.2" stroke-linecap="round" stroke-linejoin="miter"/>
<line x1="863.8" y1="610" x2="956" y2="479" stroke="#111" stroke-width="1.6"/>
<path d="M961.2,471.8 L952.8,476.6 L958.6,480.6 Z" fill="#000"/>
</svg></body></html>
